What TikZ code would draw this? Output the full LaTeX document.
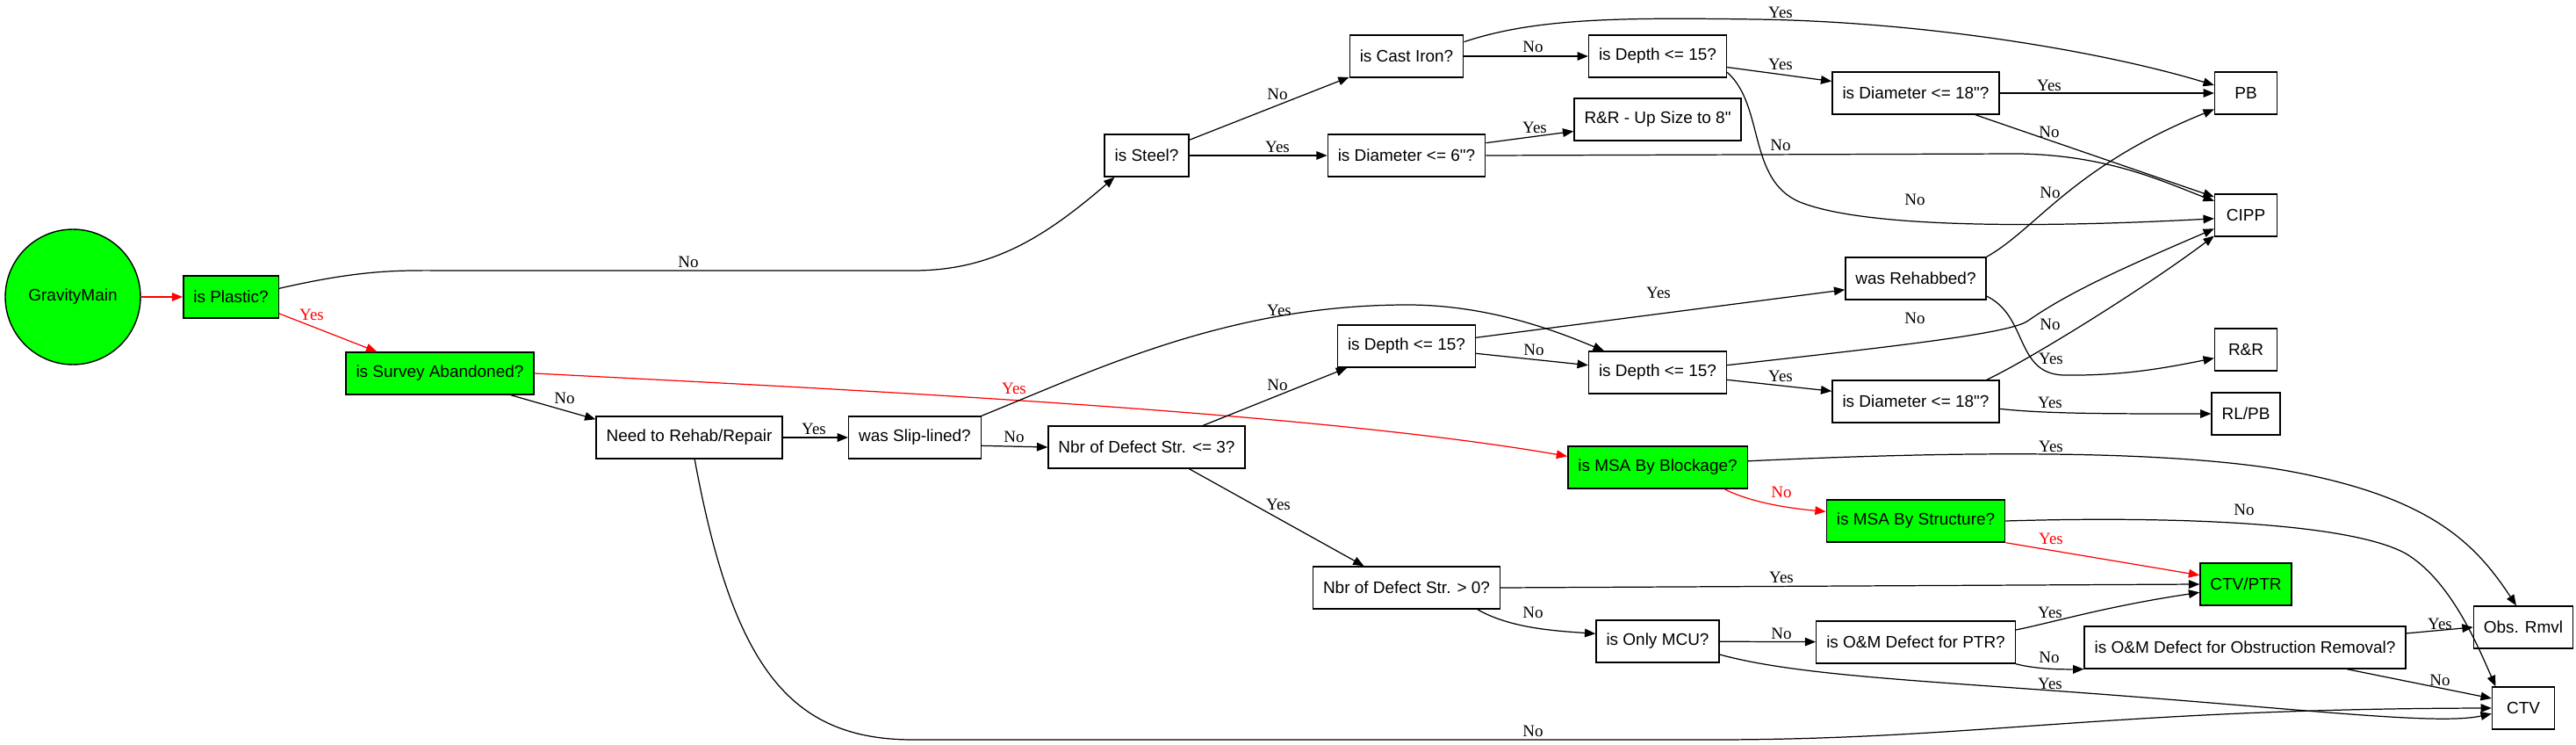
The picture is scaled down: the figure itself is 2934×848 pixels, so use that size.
\documentclass[tikz,border=0pt]{standalone}
\usepackage{fontspec}
\setmainfont{Liberation Serif}
\newfontfamily\arialfont{Liberation Sans}
\usetikzlibrary{arrows.meta}

\begin{document}
\begin{tikzpicture}[x=0.02cm, y=-0.02cm,
  box/.style={draw, line width=0.8pt, font=\arialfont\fontsize{10.8}{13}\selectfont,
    minimum width=1.42cm, minimum height=0.96cm, inner xsep=0.23cm},
  greenbox/.style={box, fill=green},
  startnode/.style={draw, circle, fill=green, line width=0.8pt, minimum size=3.08cm,
    inner sep=0pt, font=\arialfont\fontsize{10.8}{13}\selectfont},
  edge/.style={-{Triangle[length=7pt,width=5.5pt]}, line width=0.7pt},
  redge/.style={edge, red},
  lbl/.style={font=\fontsize{10.8}{13}\selectfont, inner sep=0pt},
  rlbl/.style={lbl, text=red}]
\useasboundingbox (0,0) rectangle (2934,848);

\node[startnode] (gm) at (83,338) {GravityMain};
\node[greenbox] (plastic) at (263,338) {is Plastic?};
\node[greenbox] (survey) at (501,425) {is Survey Abandoned?};
\node[box] (rehab) at (785,498) {Need to Rehab/Repair};
\node[box] (slip) at (1042,498) {was Slip-lined?};
\node[box] (nbr3) at (1306,509) {Nbr of Defect Str. <= 3?};
\node[box] (steel) at (1306,177) {is Steel?};
\node[box] (castiron) at (1602,64) {is Cast Iron?};
\node[box] (dia6) at (1602,177) {is Diameter <= 6"?};
\node[box] (depthA) at (1602,394) {is Depth <= 15?};
\node[box] (nbr0) at (1602,669) {Nbr of Defect Str. > 0?};
\node[box] (depthB) at (1888,64) {is Depth <= 15?};
\node[box] (upsize) at (1888,136) {R\&R - Up Size to 8"};
\node[box] (depthC) at (1888,424) {is Depth <= 15?};
\node[greenbox] (msablk) at (1888,532) {is MSA By Blockage?};
\node[box] (onlymcu) at (1888,730) {is Only MCU?};
\node[box] (dia18a) at (2182,106) {is Diameter <= 18"?};
\node[box] (rehabbed) at (2182,317) {was Rehabbed?};
\node[box] (dia18b) at (2182,457) {is Diameter <= 18"?};
\node[greenbox] (msastr) at (2182,593) {is MSA By Structure?};
\node[box] (omptr) at (2182,731) {is O\&M Defect for PTR?};
\node[box] (pb) at (2558,106) {PB};
\node[box] (cipp) at (2558,245) {CIPP};
\node[box] (rr) at (2558,398) {R\&R};
\node[box] (rlpb) at (2558,471) {RL/PB};
\node[greenbox] (ctvptr) at (2558,665) {CTV/PTR};
\node[box] (omobs) at (2557,737) {is O\&M Defect for Obstruction Removal?};
\node[box] (obs) at (2874,714) {Obs. Rmvl};
\node[box] (ctv) at (2874,806) {CTV};

\draw[redge] (gm) -- (plastic);
\draw[edge] (plastic.10) .. controls (420,305) and (460,308) .. (520,308) -- (1040,308) .. controls (1130,308) and (1190,270) .. (steel.214) node[lbl, at={(784,298)}] {No};
\draw[redge] (plastic.-19) -- (survey.161) node[rlbl, at={(355,358)}] {Yes};
\draw[edge] (survey.-17) -- (rehab.169) node[lbl, at={(643,453)}] {No};
\draw[redge] (survey.east) .. controls (1000,445) and (1500,470) .. (msablk.173) node[rlbl, at={(1155,442)}] {Yes};
\draw[edge] (rehab) -- (slip) node[lbl, at={(927,488)}] {Yes};
\draw[edge] (rehab.284) .. controls (835,760) and (900,842) .. (1040,842) -- (1950,842) .. controls (2250,842) and (2400,807) .. (ctv.west) node[lbl, at={(1746,832)}] {No};
\draw[edge] (slip.north east) .. controls (1250,420) and (1400,347) .. (1603,347) .. controls (1700,347) and (1780,380) .. (depthC.158) node[lbl, at={(1457,353)}] {Yes};
\draw[edge] (slip.-7) -- (nbr3.west) node[lbl, at={(1155,497)}] {No};
\draw[edge] (nbr3.21) -- (depthA.200) node[lbl, at={(1455,438)}] {No};
\draw[edge] (nbr3.-27) -- (nbr0.153) node[lbl, at={(1456,574)}] {Yes};
\draw[edge] (steel.20) -- (castiron.200) node[lbl, at={(1455,107)}] {No};
\draw[edge] (steel) -- (dia6) node[lbl, at={(1455,167)}] {Yes};
\draw[edge] (castiron) -- (depthB) node[lbl, at={(1746,53)}] {No};
\draw[edge] (castiron.14) .. controls (1750,20) and (1850,20) .. (2000,22) .. controls (2200,25) and (2400,60) .. (pb.166) node[lbl, at={(2028,14)}] {Yes};
\draw[edge] (dia6.9) -- (upsize.188) node[lbl, at={(1748,145)}] {Yes};
\draw[edge] (dia6.east) -- (2300,175) .. controls (2400,177) and (2460,205) .. (cipp.156) node[lbl, at={(2028,165)}] {No};
\draw[edge] (depthB.-9) -- (dia18a.172) node[lbl, at={(2028,73)}] {Yes};
\draw[edge] (depthB.-13) .. controls (2010,120) and (1990,205) .. (2050,230) .. controls (2130,262) and (2350,258) .. (cipp.186) node[lbl, at={(2181,227)}] {No};
\draw[edge] (dia18a) -- (pb) node[lbl, at={(2334,97)}] {Yes};
\draw[edge] (dia18a.-20) -- (cipp.150) node[lbl, at={(2334,150)}] {No};
\draw[edge] (depthA.7) -- (rehabbed.189) node[lbl, at={(1889,333)}] {Yes};
\draw[edge] (depthA.-6) -- (depthC.174) node[lbl, at={(1747,398)}] {No};
\draw[edge] (rehabbed.north east) .. controls (2320,260) and (2360,190) .. (pb.207) node[lbl, at={(2335,219)}] {No};
\draw[edge] (rehabbed.-14) .. controls (2310,360) and (2295,425) .. (2350,427) .. controls (2420,428) and (2470,418) .. (rr.195) node[lbl, at={(2336,408)}] {Yes};
\draw[edge] (depthC.6) .. controls (2150,395) and (2290,380) .. (2310,365) .. controls (2360,330) and (2430,300) .. (cipp.203) node[lbl, at={(2181,362)}] {No};
\draw[edge] (depthC.-6) -- (dia18b.173) node[lbl, at={(2028,428)}] {Yes};
\draw[edge] (dia18b.17) .. controls (2310,410) and (2440,330) .. (cipp.213) node[lbl, at={(2335,369)}] {No};
\draw[edge] (dia18b.-5) .. controls (2330,471) and (2400,471) .. (rlpb.west) node[lbl, at={(2335,458)}] {Yes};
\draw[edge] (msablk.4) .. controls (2200,515) and (2450,510) .. (2600,535) .. controls (2770,565) and (2820,620) .. (obs.108) node[lbl, at={(2336,508)}] {Yes};
\draw[redge] (msablk.-18) .. controls (1990,570) and (2030,578) .. (msastr.174) node[rlbl, at={(2029,560)}] {No};
\draw[edge] (msastr.east) .. controls (2450,588) and (2670,592) .. (2740,630) .. controls (2790,660) and (2820,730) .. (ctv.142) node[lbl, at={(2556,580)}] {No};
\draw[redge] (msastr.south east) -- (ctvptr.169) node[rlbl, at={(2336,613)}] {Yes};
\draw[edge] (nbr0.east) -- (ctvptr.west) node[lbl, at={(2029,657)}] {Yes};
\draw[edge] (nbr0.-17) .. controls (1720,715) and (1770,718) .. (onlymcu.173) node[lbl, at={(1746,697)}] {No};
\draw[edge] (onlymcu) -- (omptr) node[lbl, at={(2029,721)}] {No};
\draw[edge] (onlymcu.-12) .. controls (2050,770) and (2200,775) .. (2430,793) .. controls (2650,810) and (2780,825) .. (ctv.190) node[lbl, at={(2335,778)}] {Yes};
\draw[edge] (omptr.7) .. controls (2340,708) and (2400,690) .. (ctvptr.190) node[lbl, at={(2335,697)}] {Yes};
\draw[edge] (omptr.south east) .. controls (2320,762) and (2350,762) .. (omobs.south west) node[lbl, at={(2334,748)}] {No};
\draw[edge] (omobs.5) -- (obs.west) node[lbl, at={(2779,710)}] {Yes};
\draw[edge] (omobs.-12) -- (ctv.163) node[lbl, at={(2779,774)}] {No};
\end{tikzpicture}
\end{document}
